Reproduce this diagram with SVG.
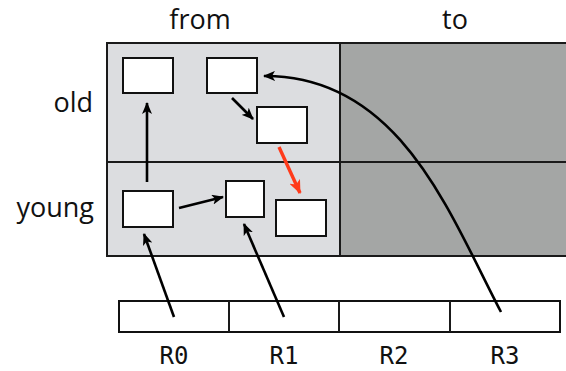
<svg xmlns="http://www.w3.org/2000/svg" width="566" height="371" viewBox="0 0 566 371">
<defs>
<style>
.lbl{font-family:"Open Sans","Liberation Sans",sans-serif;font-size:27px;font-weight:400;fill:#111}
.reg{font-family:"DejaVu Sans Mono","Liberation Mono",monospace;font-size:24px;fill:#111;text-anchor:middle}
.box{fill:#fff;stroke:#111;stroke-width:2}
.grid{stroke:#1a1a1a;stroke-width:2}
.arr{fill:none;stroke:#000;stroke-width:2.6;marker-end:url(#ah)}
.red{fill:none;stroke:#ff3a1a;stroke-width:3.4;marker-end:url(#ahr)}
</style>
<marker id="ah" viewBox="0 0 12 10" refX="11" refY="5" markerWidth="12" markerHeight="10" markerUnits="userSpaceOnUse" orient="auto">
<path d="M0,0 L12,5 L0,10 L3,5 z" fill="#000"/>
</marker>
<marker id="ahr" viewBox="0 0 12 10" refX="11" refY="5" markerWidth="14" markerHeight="12" markerUnits="userSpaceOnUse" orient="auto">
<path d="M0,0 L12,5 L0,10 L3,5 z" fill="#ff3a1a"/>
</marker>
</defs>
<rect width="566" height="371" fill="#fff"/>
<g id="heap">
<rect x="106" y="43" width="234" height="213" fill="#dcdde0"/>
<rect x="340" y="43" width="230" height="213" fill="#a4a6a5"/>
<line class="grid" x1="106" y1="43" x2="566" y2="43"/>
<line class="grid" x1="106" y1="256" x2="566" y2="256"/>
<line class="grid" x1="106" y1="162" x2="566" y2="162"/>
<line class="grid" x1="107" y1="43" x2="107" y2="256"/>
<line class="grid" x1="340" y1="43" x2="340" y2="256"/>
</g>
<g id="labels">
<text class="lbl" x="200" y="29" text-anchor="middle">from</text>
<text class="lbl" x="455" y="29" text-anchor="middle">to</text>
<text class="lbl" x="93" y="112" text-anchor="end">old</text>
<text class="lbl" x="94" y="217" text-anchor="end">young</text>
</g>
<g id="nodeA"><rect class="box" x="123" y="58" width="50" height="35"/></g>
<g id="nodeB"><rect class="box" x="207" y="58" width="50" height="35"/></g>
<g id="nodeC"><rect class="box" x="257" y="107" width="50" height="36"/></g>
<g id="nodeD"><rect class="box" x="123" y="191" width="50" height="36"/></g>
<g id="nodeE"><rect class="box" x="226" y="181" width="38" height="36"/></g>
<g id="nodeF"><rect class="box" x="276" y="200" width="50" height="36"/></g>
<g id="registers">
<rect class="box" x="119" y="301" width="441" height="31"/>
<line class="grid" x1="229" y1="301" x2="229" y2="332"/>
<line class="grid" x1="339" y1="301" x2="339" y2="332"/>
<line class="grid" x1="450" y1="301" x2="450" y2="332"/>
<text class="reg" x="174" y="364">R0</text>
<text class="reg" x="284" y="364">R1</text>
<text class="reg" x="394" y="364">R2</text>
<text class="reg" x="505" y="364">R3</text>
</g>
<g id="connectors">
<path class="arr" d="M147,182 L147,103"/>
<path class="arr" d="M232,98 L253,119"/>
<path class="arr" d="M179,208 L223,197"/>
<path class="red" d="M279,147 L300,193"/>
<path class="arr" d="M174,317 L144,234"/>
<path class="arr" d="M284,317 L244,224"/>
<path class="arr" d="M501,312 C450,215 400,75 264,76"/>
</g>
</svg>
